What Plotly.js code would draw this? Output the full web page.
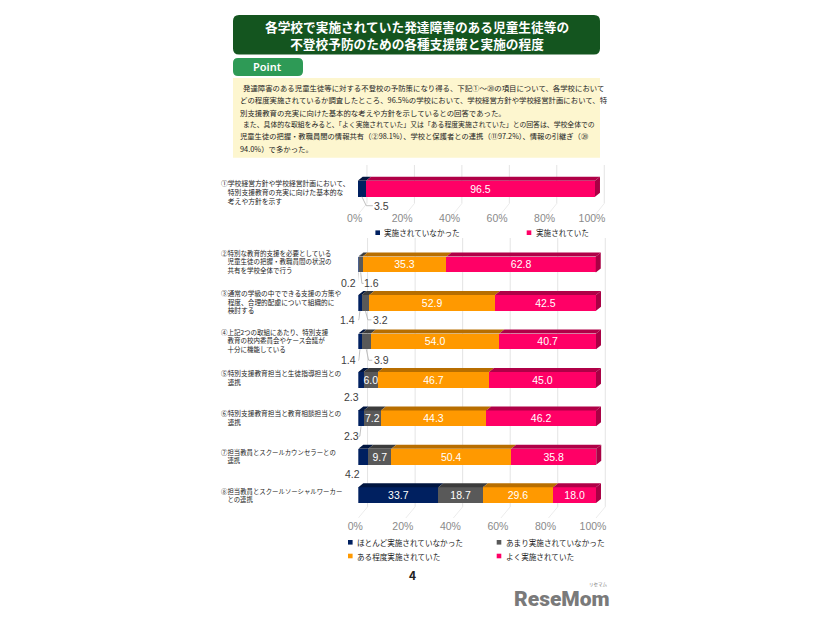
<!DOCTYPE html>
<html>
<head>
<meta charset="utf-8">
<script src="https://cdn.plot.ly/plotly-3.0.1.min.js"></script>
<style>
  html, body { margin: 0; padding: 0; background: #fff; }
  #chart { width: 826px; height: 620px; }
</style>
</head>
<body>
<div id="chart"></div>
<script>
var W = 826, H = 620;
var jp = '"Noto Sans CJK JP", sans-serif';
var num = '"Liberation Sans", Arial, sans-serif';

var titleLines = ['各学校で実施されていた発達障害のある児童生徒等の', '不登校予防のための各種支援策と実施の程度'];
var pointLines = [
  '発達障害のある児童生徒等に対する不登校の予防策になり得る、下記①～⑳の項目について、各学校において',
  'どの程度実施されているか調査したところ、96.5%の学校において、学校経営方針や学校経営計画において、特',
  '別支援教育の充実に向けた基本的な考えや方針を示しているとの回答であった。',
  'また、具体的な取組をみると、「よく実施されていた」又は「ある程度実施されていた」との回答は、学校全体での',
  '児童生徒の把握・教職員間の情報共有（②98.1%）、学校と保護者との連携（⑪97.2%）、情報の引継ぎ（⑳',
  '94.0%）で多かった。'
];

// upper chart
var topLabels = ['①学校経営方針や学校経営計画において、<br>　特別支援教育の充実に向けた基本的な<br>　考えや方針を示す'];
var topNames = ['実施されていなかった', '実施されていた'];
var notDone = [3.5];
var done = [96.5];

// lower chart
var lowLabels = [
  '②特別な教育的支援を必要としている<br>　児童生徒の把握・教職員間の状況の<br>　共有を学校全体で行う',
  '③通常の学級の中でできる支援の方策や<br>　程度、合理的配慮について組織的に<br>　検討する',
  '④上記2つの取組にあたり、特別支援<br>　教育の校内委員会やケース会議が<br>　十分に機能している',
  '⑤特別支援教育担当と生徒指導担当との<br>　連携',
  '⑥特別支援教育担当と教育相談担当との<br>　連携',
  '⑦担当教員とスクールカウンセラーとの<br>　連携',
  '⑧担当教員とスクールソーシャルワーカー<br>　との連携'
];
var lowNames = ['ほとんど実施されていなかった', 'あまり実施されていなかった', 'ある程度実施されていた', 'よく実施されていた'];
var hardly = [0.2, 1.4, 1.4, 2.3, 2.3, 4.2, 33.7];
var rarely = [1.6, 3.2, 3.9, 6.0, 7.2, 9.7, 18.7];
var somewhat = [35.3, 52.9, 54.0, 46.7, 44.3, 50.4, 29.6];
var well = [62.8, 42.5, 40.7, 45.0, 46.2, 35.8, 18.0];

var tickVals = [0, 20, 40, 60, 80, 100];
var tickText = ['0%', '20%', '40%', '60%', '80%', '100%'];

var NAVY = '#002060', GRAY = '#595959', ORANGE = '#ff9900', PINK = '#ff0066';
var sideColor = {};
sideColor[NAVY] = '#00153f';
sideColor[GRAY] = '#3c3c3c';
sideColor[ORANGE] = '#b86e00';
sideColor[PINK] = '#b00047';

// outside labels: [category, series, ax, ay, has leader line]
var topOutside = [[0, 0, 20, 9, true]];
var lowOutside = [
  [0, 0, -10, 11, true], [0, 1, 11, 11, true],
  [1, 0, -12, 9, true], [1, 1, 15, 9, true],
  [2, 0, -11, 11, true], [2, 1, 15, 11, true],
  [3, 0, -10, 9, false],
  [4, 0, -10, 10, true],
  [5, 0, -11, 9, false]
];

function px(x) { return x / W; }
function py(y) { return 1 - y / H; }

function roundRect(x0, y0, x1, y1, r) {
  var a = px(x0), b = px(x1), c = py(y0), d = py(y1), rx = r / W, ry = r / H;
  return 'M' + (a + rx) + ',' + c + ' L' + (b - rx) + ',' + c + ' Q' + b + ',' + c + ' ' + b + ',' + (c - ry) +
    ' L' + b + ',' + (d + ry) + ' Q' + b + ',' + d + ' ' + (b - rx) + ',' + d +
    ' L' + (a + rx) + ',' + d + ' Q' + a + ',' + d + ' ' + a + ',' + (d + ry) +
    ' L' + a + ',' + (c - ry) + ' Q' + a + ',' + c + ' ' + (a + rx) + ',' + c + ' Z';
}

var shapes = [], annotations = [];

function text(str, x, y, size, color, anchor, weight, family, align) {
  annotations.push({
    text: str, x: px(x), y: py(y), xref: 'paper', yref: 'paper', showarrow: false,
    xanchor: anchor || 'left', yanchor: 'middle', align: align || 'left',
    font: { size: size, color: color || '#222', family: family || jp, weight: weight || 400 }
  });
}

function box(x0, y0, x1, y1, r, color) {
  shapes.push({ type: 'path', xref: 'paper', yref: 'paper', path: roundRect(x0, y0, x1, y1, r), fillcolor: color, line: { width: 0 }, layer: 'below' });
}

function legendItem(name, x, y, color) {
  shapes.push({ type: 'rect', xref: 'paper', yref: 'paper', x0: px(x - 2.3), x1: px(x + 2.3), y0: py(y + 2.3), y1: py(y - 2.3), fillcolor: color, line: { width: 0 } });
  text(name, x + 4.5, y, 7.6, '#222');
}

// box, point panel, page furniture
box(233, 15, 600, 54.5, 6, '#14551f');
box(233, 58, 303, 76, 5, '#2e9a56');
box(233, 78, 600, 157.7, 0, '#fdf6cf');
text(titleLines.join('<br>'), 416.5, 34.7, 12.7, '#fff', 'center', 700, jp, 'center');
text('Point', 267.7, 66.7, 11, '#fff', 'center', 600, '"Noto Sans", sans-serif');

var pointY = [87.7, 100, 112, 124, 136, 148];
var pointX = [241, 237.5, 237.5, 241, 237.5, 237.5];
var pointSize = [7.4, 7.4, 7.4, 6.85, 7.3, 7.4];
pointLines.forEach(function(line, i) { text(line, pointX[i], pointY[i], pointSize[i], '#222'); });

text('4', 412.7, 574, 12, '#222', 'center', 700);
text('ReseMom', 562, 599, 21, '#7a7a7a', 'center', 900, 'Roboto, sans-serif');
text('リセマム', 598, 584.5, 4.5, '#7a7a7a', 'center');

// draws one stacked chart with its fake 3d walls and faces
function stacked(names, series, colors, labels, labelShift, labelSize, xName, yName, opts) {
  var traces = [];
  var ys = labels.map(function(_, i) { return i; });

  tickVals.forEach(function(t) {
    shapes.push({
      type: 'line', xref: xName, yref: yName, layer: 'below',
      x0: t + opts.wallDx, x1: t + opts.wallDx, y0: opts.yTop, y1: opts.yBottom - opts.wallDy,
      line: { color: '#e4e4e4', width: 1 }
    });
    shapes.push({
      type: 'line', xref: xName, yref: yName, layer: 'below',
      x0: t, x1: t + opts.wallDx, y0: opts.yBottom, y1: opts.yBottom - opts.wallDy,
      line: { color: '#ececec', width: 1 }
    });
  });

  series.forEach(function(values, s) {
    traces.push({
      type: 'bar', orientation: 'h', name: names[s], x: values, y: ys,
      xaxis: xName, yaxis: yName, width: opts.barWidth,
      marker: { color: colors[s], line: { width: 0 } },
      text: values.map(function(v) { return v >= 6 ? v.toFixed(1) : ''; }),
      textposition: 'inside', insidetextanchor: 'middle', textangle: 0,
      constraintext: 'none', cliponaxis: false,
      textfont: { color: '#fff', size: 10.5, family: num },
      hoverinfo: 'x+name'
    });
  });

  ys.forEach(function(y) {
    var left = 0;
    var yTopFace = y - opts.barWidth / 2;
    series.forEach(function(values, s) {
      var right = left + values[y];
      shapes.push({
        type: 'path', xref: xName, yref: yName, line: { width: 0 }, fillcolor: sideColor[colors[s]], layer: 'above',
        path: 'M' + left + ',' + yTopFace + ' L' + right + ',' + yTopFace +
          ' L' + (right + opts.dx) + ',' + (yTopFace - opts.dy) + ' L' + (left + opts.dx) + ',' + (yTopFace - opts.dy) + ' Z'
      });
      left = right;
    });
    shapes.push({
      type: 'path', xref: xName, yref: yName, line: { width: 0 }, fillcolor: '#a80044', layer: 'above',
      path: 'M' + left + ',' + yTopFace + ' L' + (left + opts.dx) + ',' + (yTopFace - opts.dy) +
        ' L' + (left + opts.dx) + ',' + (yTopFace - opts.dy + opts.barWidth) + ' L' + left + ',' + (yTopFace + opts.barWidth) + ' Z'
    });
    annotations.push({
      text: labels[y], x: px(219), xref: 'paper', y: y, yref: yName, yshift: labelShift[y],
      xanchor: 'left', yanchor: 'middle', align: 'left', showarrow: false,
      font: { size: labelSize[y], color: '#222', family: jp }
    });
  });

  return traces;
}

// value below the bar, with a thin elbow back to its segment
function outsideLabel(item, series, xName, yName, opts) {
  var left = 0;
  for (var s = 0; s < item[1]; s++) { left += series[s][item[0]]; }
  var value = series[item[1]][item[0]];
  var mid = left + value / 2;
  var bottom = item[0] + opts.barWidth / 2;
  annotations.push({
    text: value.toFixed(1), x: mid, xref: xName, y: bottom, yref: yName,
    showarrow: false, xanchor: 'center', yanchor: 'middle',
    xshift: item[2], yshift: -item[3],
    font: { size: 10.5, color: '#404040', family: num }
  });
  if (item[4]) {
    var sign = item[2] > 0 ? 1 : -1;
    var reach = Math.max(Math.abs(item[2]) - 9, 3);
    var elbowX = mid + sign * 0.4 * reach / opts.pxX;
    var endX = mid + sign * reach / opts.pxX;
    var endY = bottom + item[3] / opts.pxY;
    shapes.push({
      type: 'path', xref: xName, yref: yName, layer: 'above',
      path: 'M' + mid + ',' + bottom + ' L' + elbowX + ',' + endY + ' L' + endX + ',' + endY,
      line: { color: '#b0b0b0', width: 0.8 }
    });
  }
}

var topSeries = [notDone, done];
var lowSeries = [hardly, rarely, somewhat, well];

var topOpts = { barWidth: 0.32, dx: 2.1, dy: 0.08, wallDx: 3.9, wallDy: 0.23, yTop: -0.474, yBottom: 0.526, pxX: 2.373, pxY: 50 };
var lowOpts = { barWidth: 0.41, dx: 2.1, dy: 0.104, wallDx: 3.9, wallDy: 0.29, yTop: -0.689, yBottom: 6.593, pxX: 2.377, pxY: 38.45 };

var data = stacked(topNames, topSeries, [NAVY, PINK], topLabels, [-3], [6.8], 'x', 'y', topOpts)
  .concat(stacked(lowNames, lowSeries, [NAVY, GRAY, ORANGE, PINK], lowLabels, [2.5, 1.3, 1, 2.8, 0.8, 0, 0], [6.5, 6.7, 6.5, 6.7, 6.7, 6.4, 6.4], 'x2', 'y2', lowOpts));

topOutside.forEach(function(item) { outsideLabel(item, topSeries, 'x', 'y', topOpts); });
lowOutside.forEach(function(item) { outsideLabel(item, lowSeries, 'x2', 'y2', lowOpts); });

legendItem(topNames[0], 377.7, 232.7, NAVY);
legendItem(topNames[1], 529, 232.7, PINK);
legendItem(lowNames[0], 350.3, 542.3, NAVY);
legendItem(lowNames[1], 499, 542.3, GRAY);
legendItem(lowNames[2], 350.3, 556, ORANGE);
legendItem(lowNames[3], 499, 556, PINK);

function xAxis(x0, perUnit, linePx) {
  return {
    domain: [px(x0), px(x0 + perUnit * 104.5)], range: [0, 104.5], anchor: 'free', position: py(linePx), fixedrange: true,
    tickmode: 'array', tickvals: tickVals, ticktext: tickText, ticklabelshift: -3,
    ticks: '', showgrid: false, zeroline: false, showline: false,
    tickfont: { size: 10.5, color: '#8a8a8a', family: num }
  };
}

function yAxis(y0, y1, range, anchor) {
  return { domain: [py(y1), py(y0)], range: range, anchor: anchor, visible: false, fixedrange: true };
}

var layout = {
  width: W, height: H, margin: { l: 0, r: 0, t: 0, b: 0 },
  paper_bgcolor: '#fff', plot_bgcolor: 'rgba(0,0,0,0)',
  barmode: 'stack', showlegend: false,
  xaxis: xAxis(357.7, 2.373, 210.5),
  yaxis: yAxis(165, 215, [topOpts.yBottom, topOpts.yTop], 'x'),
  xaxis2: xAxis(358.3, 2.377, 518),
  yaxis2: yAxis(238, 518, [lowOpts.yBottom, lowOpts.yTop], 'x2'),
  shapes: shapes,
  annotations: annotations
};

Plotly.newPlot('chart', data, layout, { displayModeBar: false });
</script>
</body>
</html>
